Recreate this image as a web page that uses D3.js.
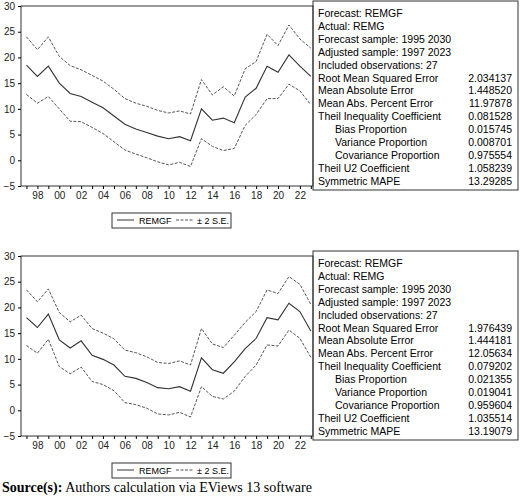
<!DOCTYPE html>
<html><head><meta charset="utf-8">
<script src="https://cdn.jsdelivr.net/npm/d3@7"></script>
<style>body{margin:0;background:#fff}svg{font-family:"Liberation Sans",Arial,sans-serif}</style>
</head><body><div id="chart"></div>
<script>
const years = d3.range(1997, 2024);
const fcA = [18.5,16.3,18.3,15,13,12.4,11.3,10.2,8.6,7,6.1,5.4,4.7,4.2,4.6,3.8,10,7.8,8.2,7.3,12.3,14,18.3,17.1,20.5,18.3,16.3];
const upA = [24,21.5,24,20.2,18.4,17.6,16.5,15.4,13.8,12,11.1,10.5,9.7,9.2,9.6,9,15.7,12.7,14.3,12.5,17.8,19.2,24.5,22.3,26.3,23.6,21.8];
const loA = [12.8,11.1,12.4,10,7.6,7.5,6.4,5.2,3.6,2,1.2,0.5,-0.3,-0.9,-0.4,-1.2,4.2,2.7,1.9,2.3,6.8,8.9,12,12,14.8,13.5,10.8];
const fcB = [18,16.1,18.7,13.7,12.1,13.5,10.7,9.9,8.8,6.6,6.2,5.4,4.4,4.2,4.6,3.7,10.2,7.9,7.2,9.4,12,14,18,17.6,20.8,19.2,15.4];
const upB = [23.4,21.1,23.6,19,17.2,18.5,15.9,15,13.9,11.7,11.2,10.4,9.3,9.1,9.6,8.8,15.9,12.9,12.2,14.6,17.1,19.2,23.4,22.7,26,24.5,20.6];
const loB = [12.6,11.1,13.8,8.5,7.1,8.4,5.6,5,3.8,1.5,1.1,0.4,-0.7,-0.9,-0.4,-1.3,4.6,2.7,2.2,3.7,6.6,8.8,12.7,12.5,15.6,14,10.3];
const statLabels = ["Forecast: REMGF","Actual: REMG","Forecast sample: 1995 2030","Adjusted sample: 1997 2023","Included observations: 27","Root Mean Squared Error","Mean Absolute Error","Mean Abs. Percent Error","Theil Inequality Coefficient","Bias Proportion","Variance Proportion","Covariance Proportion","Theil U2 Coefficient","Symmetric MAPE"];
const statsA = ["","","","","","2.034137","1.448520","11.97878","0.081528","0.015745","0.008701","0.975554","1.058239","13.29285"];
const statsB = ["","","","","","1.976439","1.444181","12.05634","0.079202","0.021355","0.019041","0.959604","1.035514","13.19079"];
const yTicks = [-5,0,5,10,15,20,25,30];
const xLabels = d3.range(1998, 2024, 2);

const svg = d3.select("#chart").append("svg").attr("width",520).attr("height",498);

function panel(top, fc, up, lo, stats){
  const x = d3.scaleLinear().domain([1996.5, 2023.2]).range([21, 313]);
  const y = d3.scaleLinear().domain([-5, 30]).range([top+181, top+1]);
  const g = svg.append("g");
  g.append("rect").attr("x",21).attr("y",top+1).attr("width",292).attr("height",180)
    .attr("fill","none").attr("stroke","#333");
  g.append("g").attr("transform","translate(21,0)")
    .call(d3.axisLeft(y).tickValues(yTicks).tickSize(3).tickFormat(d=>d<0?"\u2212"+(-d):d))
    .call(a=>{a.select(".domain").remove();a.selectAll("text").attr("font-size",10).attr("fill","#222");});
  g.append("g").attr("transform",`translate(0,${top+181})`)
    .call(d3.axisBottom(x).tickValues(years).tickSize(3).tickFormat(d=>xLabels.includes(d)?String(d).slice(2):""))
    .call(a=>{a.select(".domain").remove();a.selectAll("text").attr("font-size",10).attr("fill","#222");});
  const line = d3.line().x((d,i)=>x(years[i])).y(d=>y(d));
  g.append("path").attr("d",line(up)).attr("fill","none").attr("stroke","#555").attr("stroke-dasharray","3,1.5");
  g.append("path").attr("d",line(lo)).attr("fill","none").attr("stroke","#555").attr("stroke-dasharray","3,1.5");
  g.append("path").attr("d",line(fc)).attr("fill","none").attr("stroke","#333").attr("stroke-width",1.1);
  // legend
  const ly = top + 215;
  g.append("rect").attr("x",112).attr("y",ly-7).attr("width",119).attr("height",15).attr("fill","none").attr("stroke","#333");
  g.append("line").attr("x1",117).attr("x2",134).attr("y1",ly).attr("y2",ly).attr("stroke","#333");
  g.append("text").attr("x",139).attr("y",ly+3.5).attr("font-size",9).text("REMGF");
  g.append("line").attr("x1",176).attr("x2",193).attr("y1",ly).attr("y2",ly).attr("stroke","#555").attr("stroke-dasharray","3,1.5");
  g.append("text").attr("x",197).attr("y",ly+3.5).attr("font-size",9).text("\u00b1 2 S.E.");
  // stats box
  g.append("rect").attr("x",313).attr("y",top-4).attr("width",205).attr("height",189).attr("fill","none").attr("stroke","#333");
  statLabels.forEach((s,i)=>{
    const ty = top + 12 + i*12.9;
    const indent = (i>=9 && i<=11) ? 335 : 318;
    g.append("text").attr("x",indent).attr("y",ty).attr("font-size",10.5).text(s);
    if (stats[i]) g.append("text").attr("x",512).attr("y",ty).attr("text-anchor","end").attr("font-size",10.5).text(stats[i]);
  });
}
panel(5, fcA, upA, loA, statsA);
panel(255, fcB, upB, loB, statsB);
const src = svg.append("text").attr("x",2).attr("y",492).attr("font-family","Liberation Serif,serif").attr("font-size",14);
src.append("tspan").attr("font-weight","bold").text("Source(s):");
src.append("tspan").text(" Authors calculation via EViews 13 software");
</script></body></html>
